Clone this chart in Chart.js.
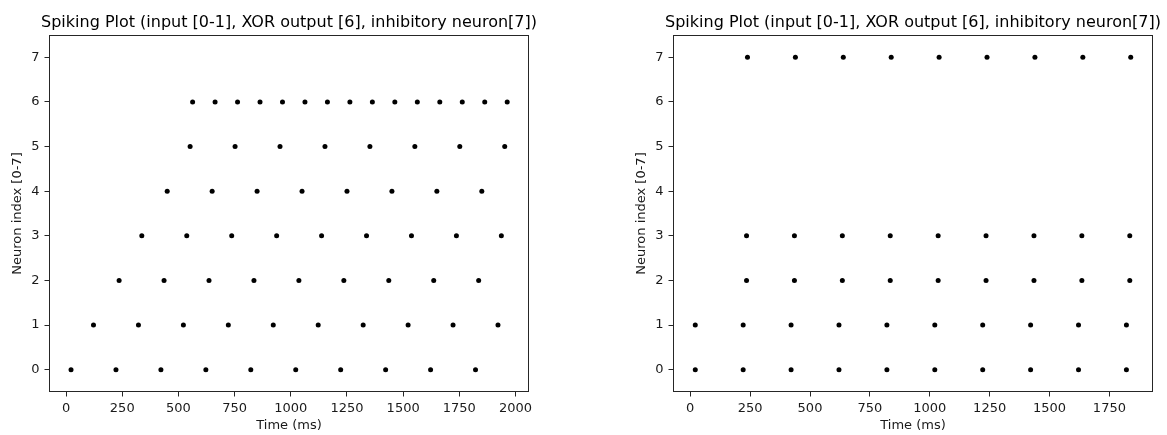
<!DOCTYPE html>
<html>
<head>
<meta charset="utf-8">
<script src="https://cdn.jsdelivr.net/npm/chart.js@4.4.1/dist/chart.umd.min.js"></script>
<style>
  body { margin: 0; background: #fff; width: 1167px; height: 435px; overflow: hidden; position: relative; }
  .panel { position: absolute; top: 0; }
</style>
</head>
<body>
<div class="panel" style="left:0px"><canvas id="chartA" width="583" height="435"></canvas></div>
<div class="panel" style="left:624px"><canvas id="chartB" width="543" height="435"></canvas></div>
<script>
// Chart data - spike times (ms) per neuron
var titleText = "Spiking Plot (input [0-1], XOR output [6], inhibitory neuron[7])";
var neuronTicks = [0, 1, 2, 3, 4, 5, 6, 7];

// Left plot
var timeTicksA = [0, 250, 500, 750, 1000, 1250, 1500, 1750, 2000];
var spikesA_n0 = [22, 222, 422, 622, 822, 1022, 1222, 1422, 1622, 1822];
var spikesA_n1 = [122, 322, 522, 722, 922, 1122, 1322, 1522, 1722, 1922];
var spikesA_n2 = [236, 436, 636, 836, 1036, 1236, 1436, 1636, 1836];
var spikesA_n3 = [337, 537, 737, 937, 1137, 1337, 1537, 1737, 1937];
var spikesA_n4 = [450, 650, 850, 1050, 1250, 1450, 1650, 1850];
var spikesA_n5 = [552, 752, 952, 1152, 1352, 1552, 1752, 1952];
var spikesA_n6 = [563, 663, 763, 863, 963, 1063, 1163, 1263, 1363, 1463, 1563, 1663, 1763, 1863, 1963];

// Right plot
var timeTicksB = [0, 250, 500, 750, 1000, 1250, 1500, 1750];
var spikesB_n0 = [21, 221, 421, 621, 821, 1021, 1221, 1421, 1621, 1821];
var spikesB_n1 = [21, 221, 421, 621, 821, 1021, 1221, 1421, 1621, 1821];
var spikesB_n2 = [235, 435, 635, 835, 1035, 1235, 1435, 1635, 1835];
var spikesB_n3 = [235, 435, 635, 835, 1035, 1235, 1435, 1635, 1835];
var spikesB_n7 = [239, 439, 639, 839, 1039, 1239, 1439, 1639, 1839];

var fontFamily = "'DejaVu Sans', sans-serif";
var inkColor = "#1a1a1a";

//Draw the box round the plot area and the title above it
var framePlugin = {
  id: 'frame',
  afterDraw: function (chart) {
    var a = chart.chartArea;
    var ctx = chart.ctx;
    ctx.save();
    ctx.strokeStyle = "#262626";
    ctx.lineWidth = 1;
    ctx.strokeRect(Math.floor(a.left) + 0.5, Math.floor(a.top) + 0.5,
      Math.round(a.right - a.left) - 1, Math.round(a.bottom - a.top) - 1);
    //Title centred on the plot area (not squeezed to its width)
    ctx.fillStyle = "#000";
    ctx.font = "16px " + fontFamily;
    ctx.textAlign = "center";
    ctx.textBaseline = "alphabetic";
    ctx.fillText(titleText, (a.left + a.right) / 2, a.top - 8);
    ctx.restore();
  }
};

//Turn neuron -> spike times lists into scatter points
function toPoints(rows) {
  var pts = [];
  for (var i = 0; i < rows.length; i++) {
    for (var j = 0; j < rows[i].times.length; j++) {
      pts.push({ x: rows[i].times[j], y: rows[i].neuron });
    }
  }
  return pts;
}

function makeChart(id, rows, xMin, xMax, xTicks, padRight) {
  var ctx = document.getElementById(id).getContext("2d");
  return new Chart(ctx, {
    type: 'scatter',
    data: {
      datasets: [{
        data: toPoints(rows),
        backgroundColor: "#000",
        borderColor: "#000",
        pointRadius: 2.5,
        pointBorderWidth: 0
      }]
    },
    options: {
      responsive: false,
      animation: false,
      devicePixelRatio: 1,
      layout: { padding: { left: 0, right: padRight, top: 35, bottom: 0 } },
      plugins: {
        legend: { display: false },
        tooltip: { enabled: false },
        title: { display: false }
      },
      scales: {
        x: {
          type: 'linear',
          min: xMin,
          max: xMax,
          afterBuildTicks: function (s) {
            s.ticks = xTicks.map(function (v) { return { value: v }; });
          },
          afterFit: function (s) { s.height = 43; },
          border: { display: false },
          grid: { display: true, drawOnChartArea: false, drawTicks: true, tickLength: 4.5, color: "#262626" },
          ticks: {
            autoSkip: false, maxRotation: 0, padding: 4, color: inkColor,
            font: { family: fontFamily, size: 13 },
            callback: function (v) { return String(v); }
          },
          title: {
            display: true, text: "Time (ms)", color: inkColor,
            font: { family: fontFamily, size: 13 },
            padding: { top: 0, bottom: 1.2 }
          }
        },
        y: {
          type: 'linear',
          min: -0.5,
          max: 7.5,
          afterBuildTicks: function (s) {
            s.ticks = neuronTicks.map(function (v) { return { value: v }; });
          },
          afterFit: function (s) { s.width = 49; },
          border: { display: false },
          grid: { display: true, drawOnChartArea: false, drawTicks: true, tickLength: 4.5, color: "#262626" },
          ticks: {
            padding: 5, color: inkColor,
            font: { family: fontFamily, size: 13 },
            callback: function (v) { return String(v); }
          },
          title: {
            display: true, text: "Neuron index [0-7]", color: inkColor,
            font: { family: fontFamily, size: 13 },
            padding: { top: 10, bottom: 0 }
          }
        }
      }
    },
    plugins: [framePlugin]
  });
}

makeChart("chartA", [
  { neuron: 0, times: spikesA_n0 },
  { neuron: 1, times: spikesA_n1 },
  { neuron: 2, times: spikesA_n2 },
  { neuron: 3, times: spikesA_n3 },
  { neuron: 4, times: spikesA_n4 },
  { neuron: 5, times: spikesA_n5 },
  { neuron: 6, times: spikesA_n6 }
], -76, 2060, timeTicksA, 54);

makeChart("chartB", [
  { neuron: 0, times: spikesB_n0 },
  { neuron: 1, times: spikesB_n1 },
  { neuron: 2, times: spikesB_n2 },
  { neuron: 3, times: spikesB_n3 },
  { neuron: 7, times: spikesB_n7 }
], -72, 1932, timeTicksB, 14);
</script>
</body>
</html>
